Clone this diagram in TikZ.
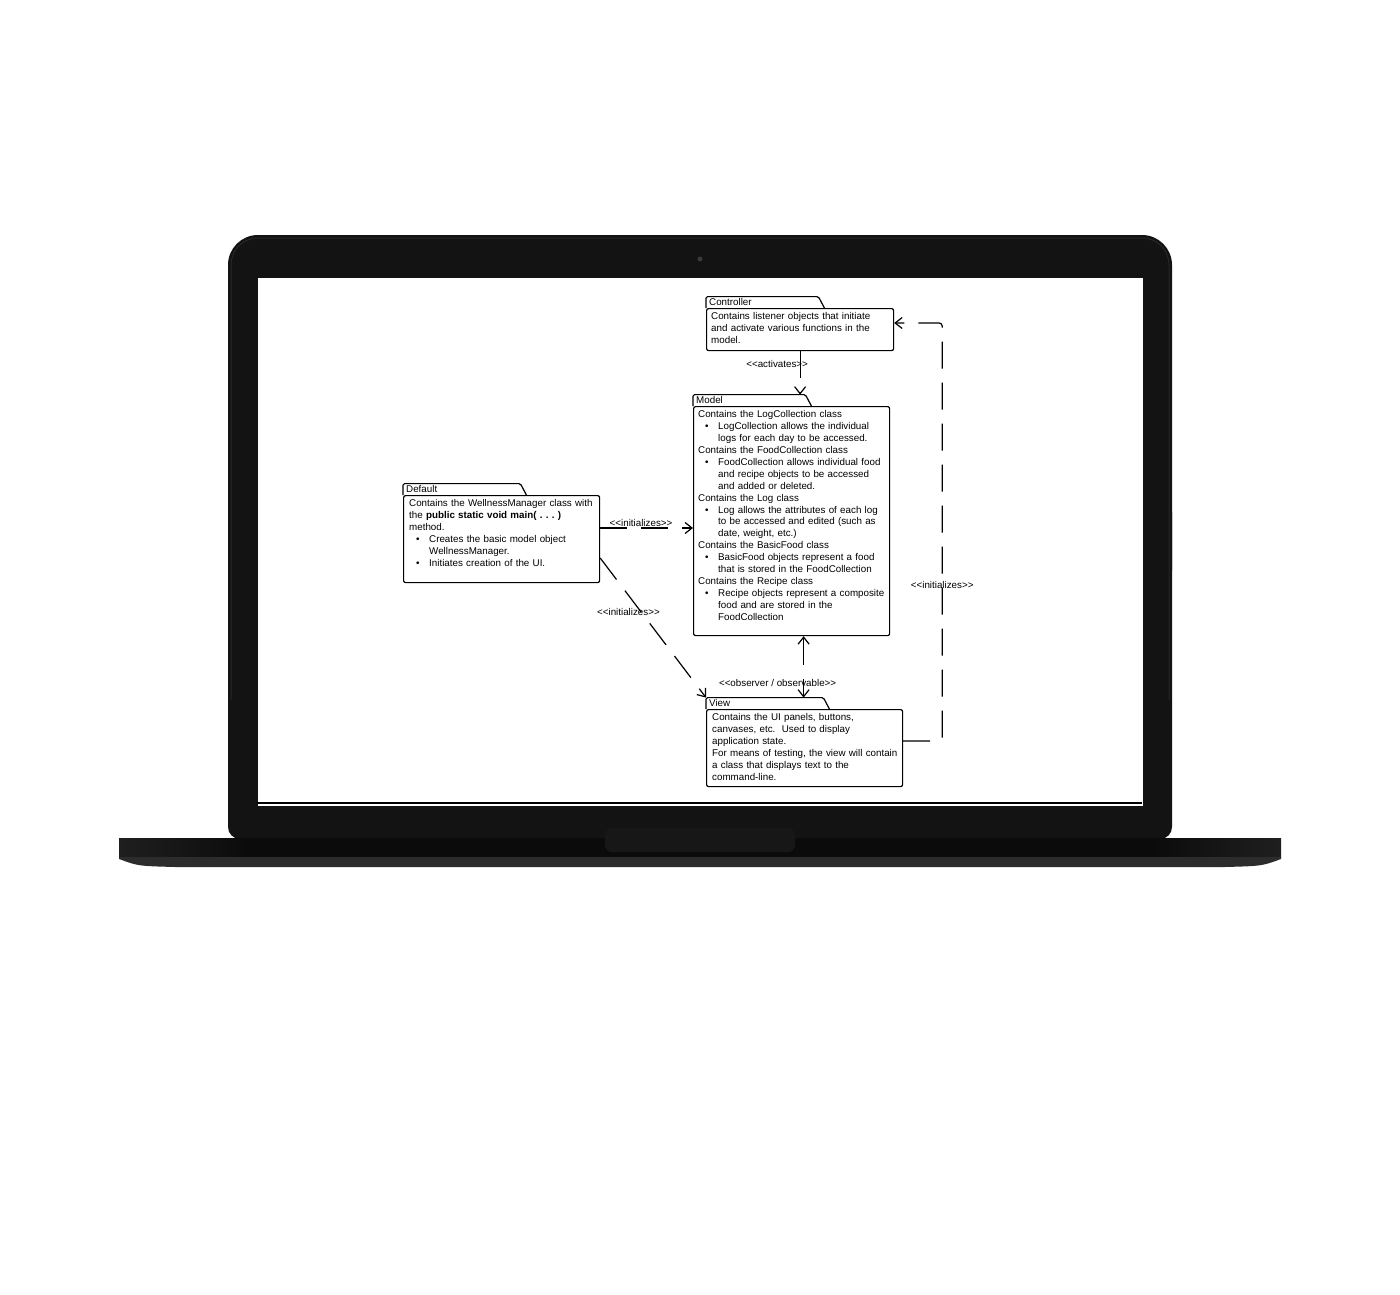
\documentclass[tikz,border=0pt]{standalone}
\usepackage{fontspec}
\setmainfont{Liberation Sans}
\usetikzlibrary{arrows.meta}
\definecolor{lidc}{HTML}{131313}
\definecolor{lidedge}{HTML}{262626}
\definecolor{camc}{HTML}{3A3A3A}
\definecolor{basec}{HTML}{0B0B0B}
\definecolor{baseend}{HTML}{1F1F1F}
\definecolor{basebot}{HTML}{2C2C2C}
\definecolor{notchc}{HTML}{171717}
\newcommand{\umlfont}{\fontsize{9.8}{11.9}\selectfont\frenchspacing}
\newcommand{\bul}{\makebox[20pt][l]{\hspace*{7pt}\textbullet}}
\newcommand{\ind}{\hspace*{20pt}}
\newcommand{\stereotype}[1]{{<}{<}#1{>}{>}}
\tikzset{
    barb/.tip={Straight Barb[length=7pt,width=11pt]},
    pkgline/.style={line width=1.2pt},
    pkg/.style={draw, pkgline, rounded corners=2pt, anchor=north west, inner sep=0pt},
    tab/.style={anchor=south west, inner xsep=3pt, inner ysep=0pt, minimum height=11pt,
      text width=#1, align=left, font=\umlfont},
    pkgtxt/.style={anchor=north west, inner sep=0pt, text width=200pt, align=left, font=\umlfont},
    dep/.style={pkgline, dash pattern=on 27pt off 14pt, -barb},
    stereo/.style={inner sep=0pt, font=\umlfont},
  }
\begin{document}
\begin{tikzpicture}[x=1pt, y=-1pt]
  \fill[white] (0,0) rectangle (1400,1295);
  \useasboundingbox (0,0) rectangle (1400,1295);

  %laptop lid
  \fill[lidc, rounded corners=30pt] (228,235) rectangle (1172,600);
  \fill[lidc, rounded corners=12pt] (228,500) rectangle (1172,839);
  \draw[lidedge, line width=1pt, rounded corners=27pt] (231,700) -- (231,238) -- (1169,238) -- (1169,700);
  \fill[camc] (700,259) circle[radius=2.5pt];
  %screen
  \fill[white] (258,278) rectangle (1143,806);
  \draw[line width=2pt] (257,803) -- (1142,803);
  %base
  \fill[basec] (119,838) rectangle (1281,857);
  \shade[left color=baseend, right color=basec] (119,838) rectangle (250,857);
  \shade[left color=basec, right color=baseend] (1150,838) rectangle (1281,857);
  \fill[basebot] (119,857) -- (1281,857) -- (1281,859) .. controls (1262,866) .. (1225,867)
    -- (175,867) .. controls (138,866) .. (119,859) -- cycle;
  \fill[notchc, rounded corners=7pt] (605,828) rectangle (795,852);

  %packages
  \node[pkg, minimum width=187pt, minimum height=42pt] (ctrl) at (706,308) {};
  \node[pkg, minimum width=196pt, minimum height=229pt] (model) at (693,406) {};
  \node[pkg, minimum width=196pt, minimum height=87pt] (dflt) at (403,495) {};
  \node[pkg, minimum width=196pt, minimum height=77pt] (view) at (706,709) {};

  \node[tab=106pt] (ctab) at (ctrl.north west) {Controller};
  \node[tab=106pt] (mtab) at (model.north west) {Model};
  \node[tab=111pt] (dtab) at (dflt.north west) {Default};
  \node[tab=111pt] (vtab) at (view.north west) {View};
  \foreach \t in {ctab,mtab,dtab,vtab}
    \draw[pkgline, rounded corners=1.5pt] (\t.south west) -- (\t.north west) -- (\t.north east) -- ([xshift=6pt]\t.south east);

  \node[pkgtxt] (ctxt) at ([shift={(5,4.5)}]ctrl.north west)
    {Contains listener objects that initiate\\and activate various functions in the\\model.};
  \node[pkgtxt] (mtxt) at ([shift={(5,4.5)}]model.north west)
    {Contains the LogCollection class\\
     \bul LogCollection allows the individual\\
     \ind logs for each day to be accessed.\\
     Contains the FoodCollection class\\
     \bul FoodCollection allows individual food\\
     \ind and recipe objects to be accessed\\
     \ind and added or deleted.\\
     Contains the Log class\\
     \bul Log allows the attributes of each log\\
     \ind to be accessed and edited (such as\\
     \ind date, weight, etc.)\\
     Contains the BasicFood class\\
     \bul BasicFood objects represent a food\\
     \ind that is stored in the FoodCollection\\
     Contains the Recipe class\\
     \bul Recipe objects represent a composite\\
     \ind food and are stored in the\\
     \ind FoodCollection};
  \node[pkgtxt] (dtxt) at ([shift={(6,4.5)}]dflt.north west)
    {Contains the WellnessManager class with\\
     the \textbf{public static void main( . . . )}\\
     method.\\
     \bul Creates the basic model object\\
     \ind WellnessManager.\\
     \bul Initiates creation of the UI.};
  \node[pkgtxt] (vtxt) at ([shift={(6,4.5)}]view.north west)
    {Contains the UI panels, buttons,\\
     canvases, etc.\ \ Used to display\\
     application state.\\
     For means of testing, the view will contain\\
     a class that displays text to the\\
     command-line.};

  %dependencies
  \draw[dep] (ctrl.south) -- (ctrl.south |- mtab.north)
    node[stereo, pos=0.29, xshift=-23pt] (lact) {\stereotype{activates}};
  \draw[dep] ([yshift=-33pt]dflt.north east) coordinate (d1) -- (d1 -| model.west)
    node[stereo, pos=0.44, yshift=5pt] (lini1) {\stereotype{initializes}};
  \draw[dep] ([yshift=-63pt]dflt.north east) -- (vtab.north west)
    node[stereo, pos=0.39, xshift=-13pt] (lini2) {\stereotype{initializes}};
  \draw[dep, barb-barb] ([xshift=12pt]model.south) coordinate (m1) -- (m1 |- vtab.north)
    node[stereo, pos=0.76, xshift=-26pt] (lobs) {\stereotype{observer / observable}};
  \draw[dep, rounded corners=3pt] ([yshift=-32pt]view.north east) -| ([xshift=48pt,yshift=-15pt]ctrl.north east)
    node[stereo, pos=0.687] (lini3) {\stereotype{initializes}} -- ([yshift=-15pt]ctrl.north east);
\end{tikzpicture}
\end{document}
